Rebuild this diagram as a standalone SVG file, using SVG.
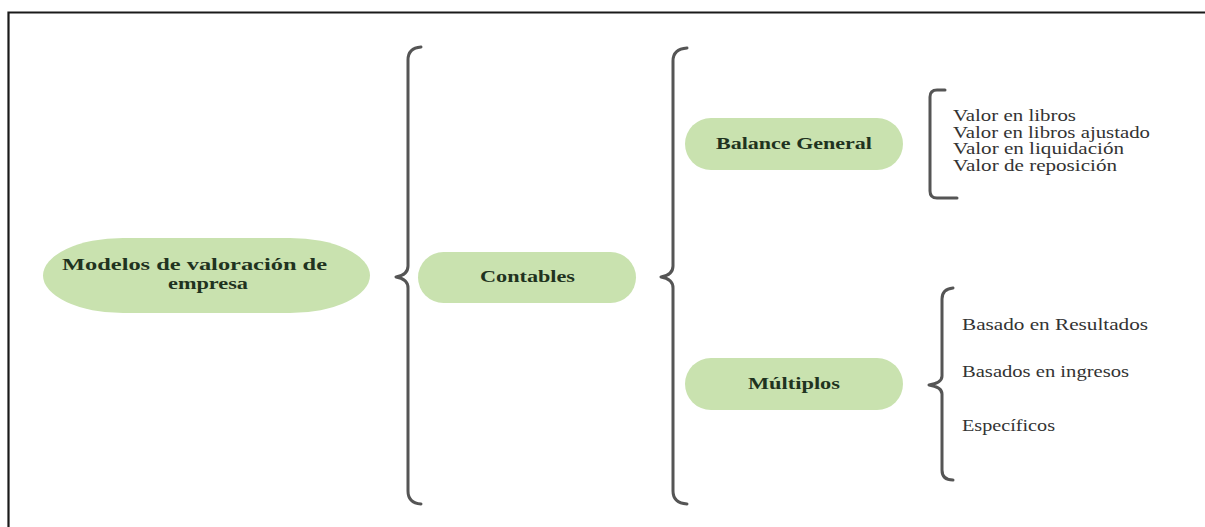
<svg xmlns="http://www.w3.org/2000/svg" width="1205" height="527" viewBox="0 0 1205 527">
  <style>
    .pill { fill: #c9e2af; }
    .head { font-family: "Liberation Serif", "Times New Roman", serif; font-weight: bold; font-size: 17px; fill: #1f3320; text-anchor: start; }
    .item { font-family: "Liberation Serif", "Times New Roman", serif; font-size: 16px; fill: #333333; }
    .brace { fill: none; stroke: #555555; stroke-width: 3; stroke-linecap: round; stroke-linejoin: round; }
    .frame { fill: none; stroke: #1a1a1a; stroke-width: 2.2; }
  </style>

  <rect width="1205" height="527" fill="#ffffff"/>
  <!-- outer frame (left and top edges) -->
  <path class="frame" d="M8.5,527 L8.5,12.5 L1205,12.5"/>

  <g id="connectors">
    <!-- brace: Modelos -> Contables -->
    <path class="brace" d="M421,47 Q408,48 408,60 L408,266 Q408,275 396,277 Q408,279 408,288 L408,491 Q408,503 421,504"/>
    <!-- brace: Contables -> Balance General / Múltiplos -->
    <path class="brace" d="M687,48 Q673,49 673,61 L673,266 Q673,275 661,277 Q673,279 673,288 L673,491 Q673,503 687,504"/>
    <!-- bracket: Balance General items -->
    <path class="brace" d="M945,90 L937,90 Q930,90 930,97 L930,191 Q930,198 937,198 L957,198"/>
    <!-- brace: Múltiplos items -->
    <path class="brace" d="M953,288 Q942,289 942,299 L942,376 Q942,383 929,385 Q942,387 942,394 L942,470 Q942,480 953,480"/>
  </g>

  <g id="node-modelos">
    <rect class="pill" x="43" y="238" width="327" height="75" rx="80" ry="37.5"/>
    <text class="head" x="62" y="270" textLength="265" lengthAdjust="spacingAndGlyphs">Modelos de valoración de</text>
    <text class="head" x="168" y="289" textLength="80" lengthAdjust="spacingAndGlyphs">empresa</text>
  </g>

  <g id="node-contables">
    <rect class="pill" x="418" y="252" width="218" height="51" rx="25.5"/>
    <text class="head" x="480" y="282" textLength="95" lengthAdjust="spacingAndGlyphs">Contables</text>
  </g>

  <g id="node-balance">
    <rect class="pill" x="685" y="118" width="218" height="52" rx="26"/>
    <text class="head" x="716" y="149" textLength="156" lengthAdjust="spacingAndGlyphs">Balance General</text>
  </g>

  <g id="node-multiplos">
    <rect class="pill" x="685" y="358" width="218" height="52" rx="26"/>
    <text class="head" x="748" y="389" textLength="92" lengthAdjust="spacingAndGlyphs">Múltiplos</text>
  </g>

  <g id="list-balance">
    <text class="item" x="953" y="121" textLength="123" lengthAdjust="spacingAndGlyphs">Valor en libros</text>
    <text class="item" x="953" y="137.5" textLength="197" lengthAdjust="spacingAndGlyphs">Valor en libros ajustado</text>
    <text class="item" x="953" y="154" textLength="171" lengthAdjust="spacingAndGlyphs">Valor en liquidación</text>
    <text class="item" x="953" y="170.5" textLength="164" lengthAdjust="spacingAndGlyphs">Valor de reposición</text>
  </g>

  <g id="list-multiplos">
    <text class="item" x="962" y="330" textLength="186" lengthAdjust="spacingAndGlyphs">Basado en Resultados</text>
    <text class="item" x="962" y="377" textLength="167" lengthAdjust="spacingAndGlyphs">Basados en ingresos</text>
    <text class="item" x="962" y="431" textLength="93" lengthAdjust="spacingAndGlyphs">Específicos</text>
  </g>
</svg>
